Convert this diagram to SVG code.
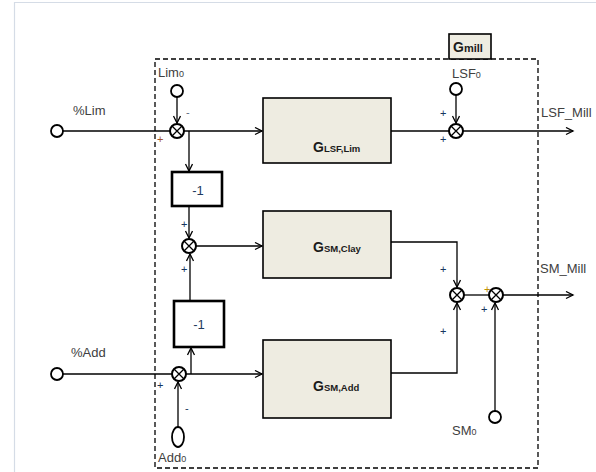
<svg xmlns="http://www.w3.org/2000/svg" width="596" height="472" viewBox="0 0 596 472">
<defs>
<marker id="arr" markerWidth="10" markerHeight="10" refX="8" refY="4" orient="auto" markerUnits="userSpaceOnUse">
<path d="M1,0.5 L8,4 L1,7.5" fill="none" stroke="#000" stroke-width="1.3"/>
</marker>
</defs>
<style>
.ln{stroke:#000;stroke-width:1.3;fill:none}
.gb{fill:#eeece1;stroke:#000;stroke-width:1.6}
.nb{fill:#fff;stroke:#000;stroke-width:2.6}
.sum{fill:#fff;stroke:#000;stroke-width:2}
.port{fill:#fff;stroke:#000;stroke-width:1.8}
.lbl{font-family:"Liberation Sans",Arial,sans-serif;font-size:13px;fill:#404040}
.sub{font-size:9px}
.gt{font-family:"Liberation Sans",Arial,sans-serif;font-weight:bold;fill:#1a1a1a}
.pm{font-family:"Liberation Sans",Arial,sans-serif;font-size:11px;fill:#17365d}
.one{font-family:"Liberation Sans",Arial,sans-serif;font-size:13px;fill:#1f3a60}
</style>
<rect width="596" height="472" fill="#fff"/>
<path d="M14.5,472 V2.5 H596" fill="none" stroke="#d5dce6" stroke-width="1.2"/>

<g id="frame">
<rect x="155" y="59" width="383" height="409" fill="none" stroke="#000" stroke-width="1.3" stroke-dasharray="5,3"/>
</g>
<g id="gmill">
<rect x="449" y="34" width="42" height="25" class="gb"/>
<text x="453" y="52" class="gt" font-size="14">G<tspan font-size="11">mill</tspan></text>
</g>

<g id="connectors">
<line x1="63" y1="131" x2="170" y2="131" class="ln"/>
<line x1="177" y1="97" x2="177" y2="123" class="ln" marker-end="url(#arr)"/>
<line x1="184" y1="131" x2="262" y2="131" class="ln" marker-end="url(#arr)"/>
<line x1="189" y1="131" x2="189" y2="171" class="ln" marker-end="url(#arr)"/>
<line x1="189" y1="206" x2="189" y2="238" class="ln" marker-end="url(#arr)"/>
<line x1="190" y1="301" x2="190" y2="254" class="ln" marker-end="url(#arr)"/>
<line x1="196" y1="246" x2="262" y2="246" class="ln" marker-end="url(#arr)"/>
<line x1="63" y1="374" x2="172" y2="374" class="ln"/>
<line x1="186" y1="374" x2="262" y2="374" class="ln" marker-end="url(#arr)"/>
<line x1="191" y1="374" x2="191" y2="348" class="ln" marker-end="url(#arr)"/>
<line x1="178" y1="427" x2="178" y2="382" class="ln" marker-end="url(#arr)"/>
<line x1="391" y1="131" x2="449" y2="131" class="ln"/>
<line x1="456" y1="95" x2="456" y2="123" class="ln" marker-end="url(#arr)"/>
<line x1="463" y1="131" x2="573" y2="131" class="ln" marker-end="url(#arr)"/>
<polyline points="391,242 457,242 457,287" class="ln" marker-end="url(#arr)"/>
<polyline points="391,373 457,373 457,303" class="ln" marker-end="url(#arr)"/>
<line x1="464" y1="295" x2="489" y2="295" class="ln"/>
<line x1="495" y1="411" x2="495" y2="303" class="ln" marker-end="url(#arr)"/>
<line x1="503" y1="295" x2="573" y2="295" class="ln" marker-end="url(#arr)"/>
</g>

<g id="in_lim"><circle cx="57" cy="131" r="6" class="port"/><text x="73" y="115" class="lbl">%Lim</text></g>
<g id="in_add"><circle cx="57" cy="374" r="6" class="port"/><text x="71" y="357" class="lbl">%Add</text></g>
<g id="lim0"><circle cx="177" cy="91" r="6" class="port"/><text x="158" y="77" class="lbl">Lim<tspan class="sub">0</tspan></text></g>
<g id="add0"><ellipse cx="178" cy="437" rx="6" ry="10" class="port"/><text x="158" y="462" class="lbl">Add<tspan class="sub">0</tspan></text></g>
<g id="lsf0"><circle cx="456" cy="89" r="6" class="port"/><text x="452" y="78" class="lbl">LSF<tspan class="sub">0</tspan></text></g>
<g id="sm0"><circle cx="495" cy="417" r="6" class="port"/><text x="452" y="435" class="lbl">SM<tspan class="sub">0</tspan></text></g>
<g id="out_lsf"><text x="541" y="117" class="lbl">LSF_Mill</text></g>
<g id="out_sm"><text x="540" y="273" class="lbl">SM_Mill</text></g>

<g id="sum_lim">
<circle cx="177" cy="131" r="7" class="sum"/>
<path d="M172,126 L182,136 M182,126 L172,136" class="ln" stroke-width="1.8"/>
<text x="186" y="116" class="pm" style="fill:#5a6a80">-</text>
<text x="157" y="143" class="pm" style="fill:#a0522d">+</text>
</g>
<g id="sum_clay">
<circle cx="189" cy="246" r="7" class="sum"/>
<path d="M184,241 L194,251 M194,241 L184,251" class="ln" stroke-width="1.8"/>
<text x="181" y="228" class="pm">+</text>
<text x="181" y="273" class="pm">+</text>
</g>
<g id="sum_add">
<circle cx="179" cy="374" r="7" class="sum"/>
<path d="M174,369 L184,379 M184,369 L174,379" class="ln" stroke-width="1.8"/>
<text x="157" y="389" class="pm">+</text>
<text x="185" y="412" class="pm">-</text>
</g>
<g id="sum_lsf">
<circle cx="456" cy="131" r="7" class="sum"/>
<path d="M451,126 L461,136 M461,126 L451,136" class="ln" stroke-width="1.8"/>
<text x="440" y="117" class="pm">+</text>
<text x="440" y="143" class="pm">+</text>
</g>
<g id="sum_sm1">
<circle cx="457" cy="295" r="7" class="sum"/>
<path d="M452,290 L462,300 M462,290 L452,300" class="ln" stroke-width="1.8"/>
<text x="440" y="273" class="pm">+</text>
<text x="440" y="335" class="pm">+</text>
</g>
<g id="sum_sm2">
<circle cx="496" cy="295" r="7" class="sum"/>
<path d="M491,290 L501,300 M501,290 L491,300" class="ln" stroke-width="1.8"/>
<text x="484" y="293" class="pm" style="fill:#c09000">+</text>
<text x="481" y="313" class="pm">+</text>
</g>

<g id="neg1_top"><rect x="172" y="172" width="50" height="34" class="nb"/><text x="198" y="195" class="one" text-anchor="middle">-1</text></g>
<g id="neg1_bot"><rect x="174" y="301" width="50" height="46" class="nb"/><text x="199" y="329" class="one" text-anchor="middle">-1</text></g>

<g id="g_lsf_lim"><rect x="263" y="98" width="128" height="65" class="gb"/><text x="313" y="152" class="gt" font-size="14">G<tspan font-size="9.5">LSF,Lim</tspan></text></g>
<g id="g_sm_clay"><rect x="263" y="211" width="128" height="67" class="gb"/><text x="313" y="252" class="gt" font-size="14">G<tspan font-size="9.5">SM,Clay</tspan></text></g>
<g id="g_sm_add"><rect x="263" y="340" width="128" height="78" class="gb"/><text x="313" y="391" class="gt" font-size="14">G<tspan font-size="9.5">SM,Add</tspan></text></g>
</svg>
